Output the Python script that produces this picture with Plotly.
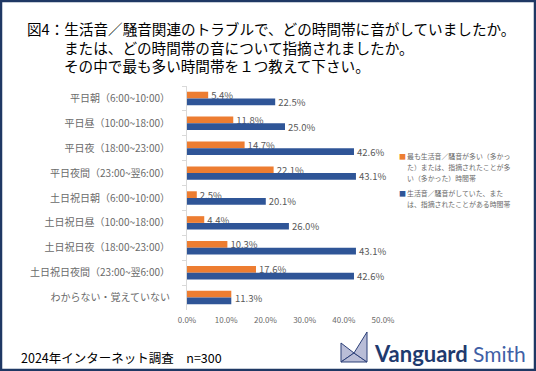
import plotly.graph_objects as go

categories = [
    "平日朝（6:00~10:00）",
    "平日昼（10:00~18:00）",
    "平日夜（18:00~23:00）",
    "平日夜間（23:00~翌6:00）",
    "土日祝日朝（6:00~10:00）",
    "土日祝日昼（10:00~18:00）",
    "土日祝日夜（18:00~23:00）",
    "土日祝日夜間（23:00~翌6:00）",
    "わからない・覚えていない",
]
most_values = [5.4, 11.8, 14.7, 22.1, 2.5, 4.4, 10.3, 17.6, 11.3]
any_values = [22.5, 25.0, 42.6, 43.1, 20.1, 26.0, 43.1, 42.6, 11.3]
series_names = [
    "最も生活音／騒音が多い（多かっ<br>た）または、指摘されたことが多<br>い（多かった）時間帯",
    "生活音／騒音がしていた、また<br>は、指摘されたことがある時間帯",
]
x_ticks = [0, 10, 20, 30, 40, 50]
x_tick_labels = ["0.0%", "10.0%", "20.0%", "30.0%", "40.0%", "50.0%"]

title_lines = [
    "図4：生活音／騒音関連のトラブルで、どの時間帯に音がしていましたか。",
    "または、どの時間帯の音について指摘されましたか。",
    "その中で最も多い時間帯を１つ教えて下さい。",
]
footer = "2024年インターネット調査　n=300"

W, H = 536, 371
L, R, T, B = 187, 383, 86, 310
FONT = "Noto Sans CJK JP, Noto Sans, sans-serif"
ORANGE = "#ED7D31"
BLUE = "#2F5597"
GRAY = "#595959"
COLORS = [ORANGE, BLUE]


def px(x):
    return (x - L) / (R - L)


def py(y):
    return (B - y) / (B - T)


def lbl(v):
    return f"{v:.1f}%"


most_text = [lbl(v) for v in most_values]
any_text = [lbl(v) for v in any_values]
# last category has a single shared label
most_text[-1] = ""
any_text[-1] = ""

fig = go.Figure()
for vals, txt, name, col in [(most_values, most_text, series_names[0], ORANGE),
                             (any_values, any_text, series_names[1], BLUE)]:
    fig.add_trace(go.Bar(
        y=categories, x=vals, orientation="h", name=name,
        marker_color=col, text=txt, textposition="outside", constraintext="none",
        textfont=dict(size=9.5, color=GRAY, family=FONT), cliponaxis=False,
        showlegend=False,
    ))

annotations = []
annotations.append(dict(
    x=max(most_values[-1], any_values[-1]), y=categories[-1], xref="x", yref="y",
    text=lbl(any_values[-1]), showarrow=False, xanchor="left", xshift=2,
    font=dict(size=9.5, color=GRAY, family=FONT),
))
title_pos = [(25, 29), (62, 47), (62, 65)]
for t, (tx, ty) in zip(title_lines, title_pos):
    annotations.append(dict(
        x=px(tx), y=py(ty), xref="paper", yref="paper", text=t, showarrow=False,
        xanchor="left", yanchor="middle", font=dict(size=14.6, color="#000000", family=FONT),
    ))
annotations.append(dict(
    x=px(19), y=py(357), xref="paper", yref="paper", text=footer, showarrow=False,
    xanchor="left", yanchor="middle", font=dict(size=12.5, color="#000000", family=FONT),
))
# legend drawn as annotations (hanging indent after the colour square)
leg_start = [156, 193]
for name, col, ly in zip(series_names, COLORS, leg_start):
    annotations.append(dict(
        x=px(397), y=py(ly), xref="paper", yref="paper", text="■",
        showarrow=False, xanchor="left", yanchor="middle",
        font=dict(size=7, color=col, family=FONT),
    ))
    for i, line in enumerate(name.split("<br>")):
        annotations.append(dict(
            x=px(405), y=py(ly + 11 * i), xref="paper", yref="paper", text=line,
            showarrow=False, xanchor="left", yanchor="middle",
            font=dict(size=6.9, color="#6a6a6a", family=FONT),
        ))
annotations.append(dict(
    x=px(372), y=py(353), xref="paper", yref="paper",
    text="<b>Vanguard</b>", showarrow=False, xanchor="left", yanchor="middle",
    font=dict(size=22, color="#1F3A6E", family="Lato, Noto Sans, sans-serif"),
))
annotations.append(dict(
    x=px(471), y=py(353), xref="paper", yref="paper",
    text="Smith", showarrow=False, xanchor="left", yanchor="middle",
    font=dict(size=21, color="#3F5FA6", family="Lato, Noto Sans, sans-serif"),
))

shapes = []
shapes.append(dict(type="rect", xref="paper", yref="paper",
                   x0=px(1), x1=px(535), y0=py(370), y1=py(1),
                   line=dict(color="#1F3864", width=2.5), fillcolor="rgba(0,0,0,0)", layer="below"))


def path(points):
    return "M " + " L ".join(f"{px(a):.5f},{py(b):.5f}" for a, b in points) + " Z"


logo_fill = "#B9BDD7"
logo_line = "#2B3F78"
cx, cy = 354, 353
for pts in [
    [(341, 343), (341, 362), (cx, cy)],
    [(341, 362), (367, 362), (cx, cy)],
    [(367, 332), (367, 362), (cx, cy)],
]:
    shapes.append(dict(type="path", xref="paper", yref="paper", path=path(pts),
                       fillcolor=logo_fill, line=dict(color=logo_line, width=1)))

fig.update_layout(
    template="none",
    width=W, height=H,
    margin=dict(l=L, r=W - R, t=T, b=H - B, autoexpand=False),
    paper_bgcolor="white", plot_bgcolor="white",
    barmode="group", bargap=0.46, bargroupgap=0,
    font=dict(family=FONT, color=GRAY),
    showlegend=False,
    xaxis=dict(range=[0, 50], tickvals=x_ticks, ticktext=x_tick_labels,
               showgrid=False, zeroline=False, showline=False, automargin=False,
               tickfont=dict(size=8, color="#6a6a6a", family=FONT), ticks="",
               ticklabelstandoff=4),
    yaxis=dict(autorange="reversed", showgrid=False, zeroline=False, automargin=False,
               showline=True, linecolor="#D9D9D9", linewidth=1,
               ticks="outside", ticklen=4, tickcolor="#D9D9D9", tickson="boundaries",
               ticklabelstandoff=14,
               tickfont=dict(size=10, color="#6a6a6a", family=FONT)),
    annotations=annotations,
    shapes=shapes,
)

fig.write_html("out.html", config={"displayModeBar": False},
               post_script="document.body.style.margin='0';document.body.style.overflow='hidden';")
